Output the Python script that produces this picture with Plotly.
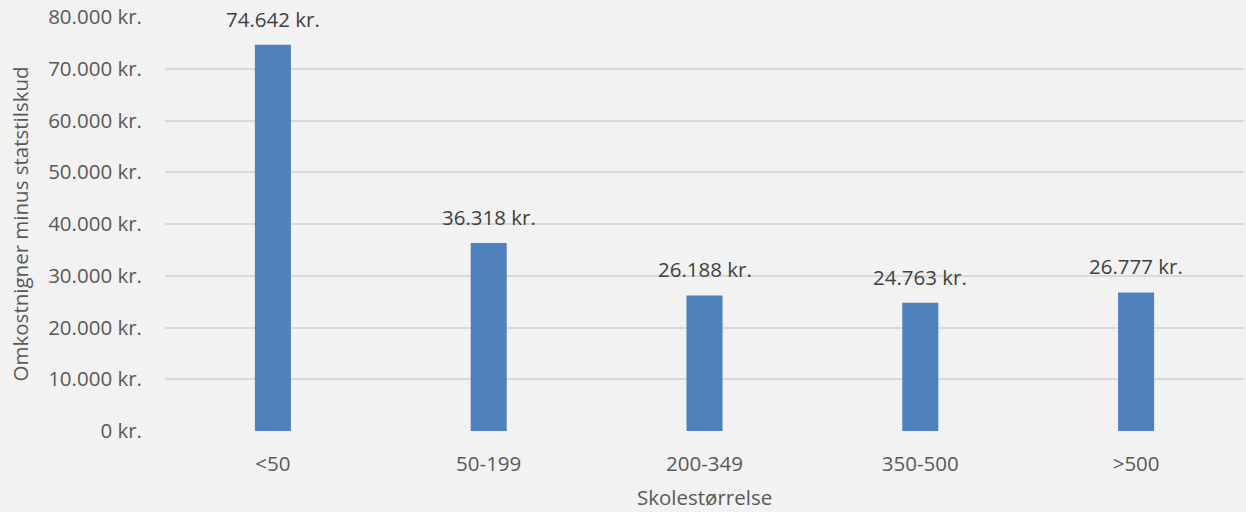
import plotly.graph_objects as go

categories = ["<50", "50-199", "200-349", "350-500", ">500"]
values = [74642, 36318, 26188, 24763, 26777]
labels = ["74.642 kr.", "36.318 kr.", "26.188 kr.", "24.763 kr.", "26.777 kr."]
tick_vals = [0, 10000, 20000, 30000, 40000, 50000, 60000, 70000, 80000]
tick_text = ["0 kr.", "10.000 kr.", "20.000 kr.", "30.000 kr.", "40.000 kr.",
             "50.000 kr.", "60.000 kr.", "70.000 kr.", "80.000 kr."]

FONT = "Open Sans"
FS = 20.5
fig = go.Figure(go.Bar(
    x=categories, y=values,
    marker=dict(color="#4f81bd", line=dict(width=0)),
    cliponaxis=False,
))

annotations = [
    dict(x=c, y=v, text=t, xref="x", yref="y", showarrow=False,
         xanchor="center", yanchor="bottom", yshift=10,
         font=dict(family=FONT, size=FS, color="#404040"))
    for c, v, t in zip(categories, values, labels)
]
annotations += [
    dict(text="Omkostnigner minus statstilskud", textangle=-90,
         xref="paper", yref="paper", x=-0.134, y=0.5,
         xanchor="center", yanchor="middle", showarrow=False,
         font=dict(family=FONT, size=FS, color="#595959")),
    dict(text="Skolestørrelse", xref="paper", yref="paper",
         x=0.5, y=-0.16, xanchor="center", yanchor="middle",
         showarrow=False, font=dict(family=FONT, size=FS, color="#595959")),
]

fig.update_layout(
    width=1246, height=512,
    paper_bgcolor="#f2f2f2", plot_bgcolor="#f2f2f2",
    margin=dict(l=165, r=2, t=17, b=81),
    bargap=0.833,
    showlegend=False,
    font=dict(family=FONT, size=FS, color="#595959"),
    xaxis=dict(showgrid=False, zeroline=False, showline=False, ticks="",
               ticklabelstandoff=18,
               tickfont=dict(family=FONT, size=FS, color="#595959")),
    yaxis=dict(range=[0, 80000], tickvals=tick_vals, ticktext=tick_text,
               showgrid=True, gridcolor="#d9d9d9", gridwidth=2,
               zeroline=False, showline=False, ticks="", ticklabelstandoff=22,
               tickfont=dict(family=FONT, size=FS, color="#595959")),
    annotations=annotations,
)

fig.write_html("out.html", config={"displayModeBar": False},
               post_script="document.body.style.margin='0';document.body.style.background='#f2f2f2';")
